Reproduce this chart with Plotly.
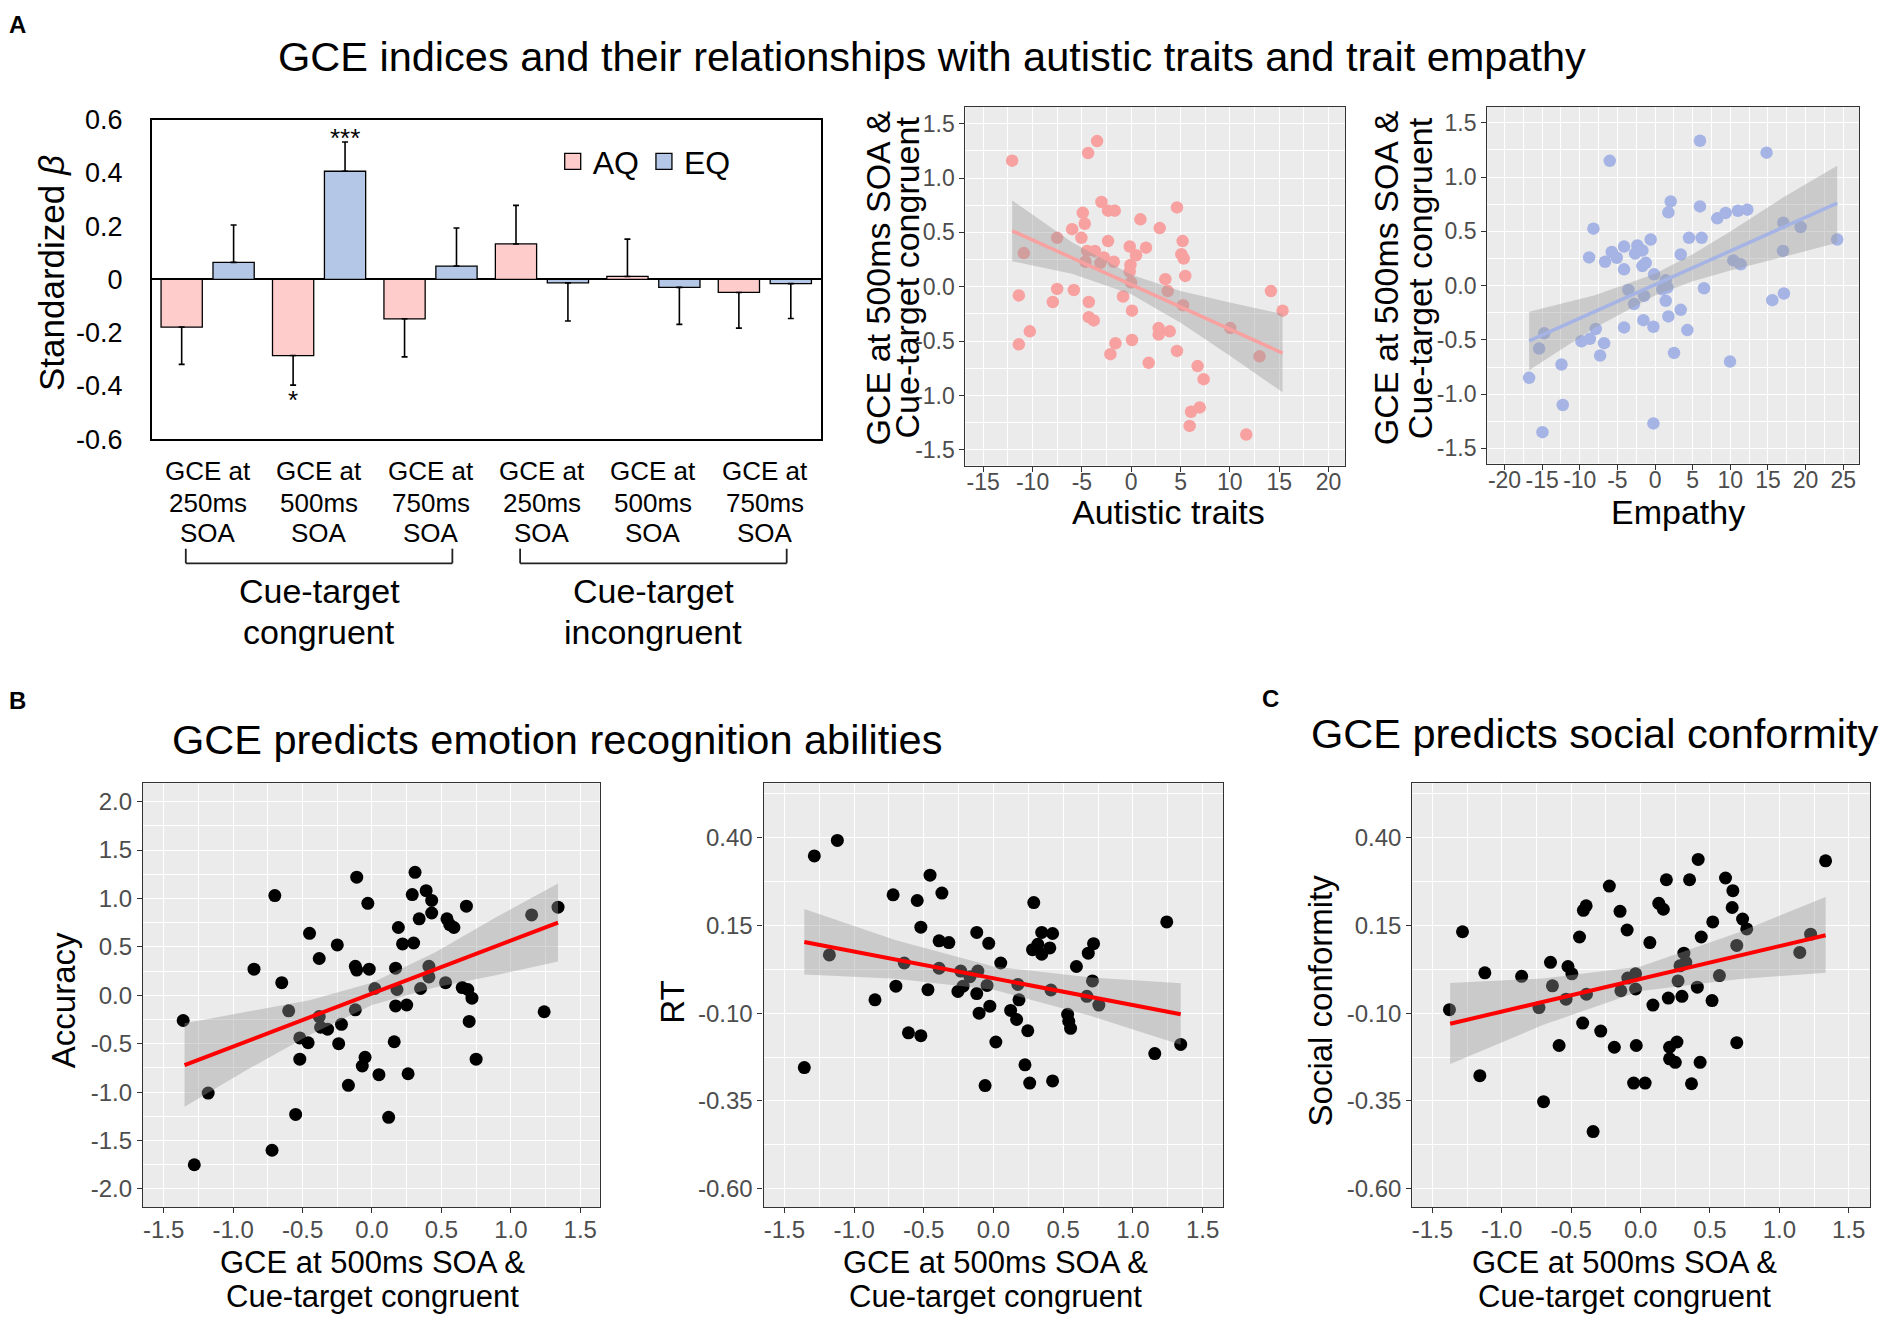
import plotly.graph_objects as go

# ============================ DATA ============================
# ---- Panel A: bar chart (standardized beta) ----
conditions = ["Congruent 250ms", "Congruent 500ms", "Congruent 750ms",
              "Incongruent 250ms", "Incongruent 500ms", "Incongruent 750ms"]
cond_line1 = ["GCE at"] * 6
cond_line2 = ["250ms", "500ms", "750ms", "250ms", "500ms", "750ms"]
cond_line3 = ["SOA"] * 6
group_line1 = ["Cue-target", "Cue-target"]
group_line2 = ["congruent", "incongruent"]
group_members = [[0, 1, 2], [3, 4, 5]]

aq_beta = [-0.179, -0.286, -0.148, 0.133, 0.011, -0.049]
aq_se = [0.140, 0.111, 0.143, 0.145, 0.140, 0.134]
eq_beta = [0.064, 0.406, 0.050, -0.013, -0.030, -0.016]
eq_se = [0.140, 0.110, 0.143, 0.143, 0.139, 0.131]
aq_sig = ["", "*", "", "", "", ""]
eq_sig = ["", "***", "", "", "", ""]
beta_ticks = [-0.6, -0.4, -0.2, 0, 0.2, 0.4, 0.6]
beta_ticklabels = ["-0.6", "-0.4", "-0.2", "0", "0.2", "0.4", "0.6"]

# ---- Panel A: GCE vs autistic traits ----
aq_x = [-12.07, -3.46, -4.37, -3.02, -2.35, -1.67, -4.91, -4.71,
        -5.99, -7.51, -5.05, -2.35, -10.89, -4.47, -3.69, -2.78,
        -4.64, -3.12, -1.77, -0.15, 0.49, -0.08, -0.15, 1.50,
        0.93, 2.89, 4.64, 5.21, 5.08, 5.32, 5.48, 3.46,
        -0.02, 3.70, -11.39, -7.51, -5.82, -7.95, -4.30, -0.83,
        0.08, 5.25, -4.30, -3.80, -10.28, -11.39, -1.60, -2.11,
        0.08, 2.78, 2.78, 3.90, 4.64, 1.77, 6.73, 7.34,
        6.06, 6.94, 5.92, 11.66, 10.04, 13.01, 14.16, 15.34]
aq_y = [1.16, 1.34, 1.23, 0.78, 0.70, 0.70, 0.68, 0.58,
        0.53, 0.45, 0.45, 0.42, 0.31, 0.33, 0.33, 0.27,
        0.23, 0.22, 0.23, 0.37, 0.29, 0.20, 0.14, 0.36,
        0.62, 0.54, 0.73, 0.42, 0.30, 0.26, 0.10, 0.07,
        0.04, -0.04, -0.08, -0.02, -0.03, -0.14, -0.14, -0.09,
        -0.22, -0.17, -0.28, -0.31, -0.41, -0.53, -0.52, -0.62,
        -0.49, -0.38, -0.44, -0.41, -0.59, -0.70, -0.73, -0.85,
        -1.15, -1.11, -1.28, -1.36, -0.38, -0.64, -0.04, -0.22]
aq_fit_x = [-12.07, 15.34]
aq_fit_y = [0.515, -0.61]
aq_band_x = [-12.07, -6.0, 0.0, 5.0, 10.0, 15.34]
aq_band_hi = [0.795, 0.41, 0.11, -0.04, -0.145, -0.25]
aq_band_lo = [0.235, 0.12, -0.07, -0.33, -0.635, -0.97]
aq_xticks = [-15, -10, -5, 0, 5, 10, 15, 20]
aq_xticklabels = ["-15", "-10", "-5", "0", "5", "10", "15", "20"]

# ---- Panel A: GCE vs empathy ----
eq_x = [5.97, 14.82, -6.02, 2.08, 1.77, 5.97, 8.27, 9.38,
        11.02, 12.26, -8.19, -0.58, 4.51, 6.19, 17.04, 19.34,
        24.20, 17.0, -4.12, -2.35, -5.75, -5.09, -8.76, -6.64,
        -2.65, -1.68, -4.12, -1.68, -1.24, 3.41, -0.13, 1.42,
        10.4, 11.37, -3.54, 0.97, 1.64, 6.50, -1.46, -2.79,
        1.42, 15.58, 17.12, 3.41, 1.77, -1.55, -0.22, -4.12,
        -7.88, 4.29, -14.73, -9.78, -8.67, -6.77, -15.4, -7.30,
        2.52, -12.43, -16.73, 9.96, -12.26, -0.22, -14.96]
eq_y = [1.335, 1.225, 1.15, 0.776, 0.675, 0.73, 0.62, 0.67,
        0.69, 0.70, 0.525, 0.425, 0.44, 0.44, 0.58, 0.54,
        0.425, 0.32, 0.36, 0.37, 0.31, 0.257, 0.26, 0.22,
        0.296, 0.324, 0.15, 0.18, 0.21, 0.287, 0.104, 0.049,
        0.232, 0.196, -0.04, -0.034, -0.018, -0.024, -0.095, -0.17,
        -0.14, -0.134, -0.073, -0.223, -0.284, -0.318, -0.379, -0.385,
        -0.40, -0.41, -0.44, -0.513, -0.49, -0.53, -0.58, -0.645,
        -0.62, -0.727, -0.85, -0.70, -1.10, -1.27, -1.35]
eq_fit_x = [-16.73, 24.2]
eq_fit_y = [-0.51, 0.76]
eq_band_x = [-16.73, -8.0, 0.0, 5.0, 10.0, 17.0, 24.2]
eq_band_hi = [-0.24, -0.089, 0.109, 0.288, 0.499, 0.811, 1.105]
eq_band_lo = [-0.78, -0.389, -0.091, 0.040, 0.139, 0.263, 0.395]
eq_xticks = [-20, -15, -10, -5, 0, 5, 10, 15, 20, 25]
eq_xticklabels = ["-20", "-15", "-10", "-5", "0", "5", "10", "15", "20", "25"]

gce_ticks = [-1.5, -1.0, -0.5, 0.0, 0.5, 1.0, 1.5]
gce_ticklabels = ["-1.5", "-1.0", "-0.5", "0.0", "0.5", "1.0", "1.5"]

# ---- Panel B: accuracy ----
acc_x = [-1.36, -1.28, -1.18, -0.85, -0.70, -0.65, -0.60, -0.72,
         -0.55, -0.52, -0.52, -0.46, -0.45, -0.38, -0.38, -0.37,
         -0.32, -0.25, -0.24, -0.22, -0.17, -0.12, -0.11, -0.11,
         -0.12, -0.05, -0.07, -0.03, -0.02, 0.02, 0.05, 0.12,
         0.17, 0.17, 0.18, 0.19, 0.22, 0.25, 0.26, 0.29,
         0.30, 0.31, 0.34, 0.35, 0.39, 0.41, 0.41, 0.43,
         0.43, 0.53, 0.54, 0.56, 0.59, 0.65, 0.69, 0.68,
         0.72, 0.70, 0.75, 1.15, 1.24, 1.34, 0.16]
acc_y = [-0.26, -1.75, -1.01, 0.27, 1.03, 0.13, -0.16, -1.60,
         -1.23, -0.44, -0.66, -0.49, 0.64, 0.38, -0.22, -0.33,
         -0.35, 0.52, -0.50, -0.30, -0.93, 0.30, 0.26, 1.22,
         -0.15, -0.64, -0.73, 0.95, 0.27, 0.07, -0.82, -1.26,
         0.28, -0.11, 0.06, 0.70, 0.53, -0.10, -0.81, 1.04,
         0.54, 1.27, 0.79, 0.07, 1.08, 0.19, 0.30, 0.98,
         0.85, 0.13, 0.79, 0.73, 0.70, 0.08, 0.06, 0.92,
         -0.03, -0.27, -0.66, 0.83, -0.17, 0.91, -0.48]
acc_fit_x = [-1.35, 1.34]
acc_fit_y = [-0.72, 0.75]
acc_band_x = [-1.35, -0.9, -0.45, 0.0, 0.45, 0.9, 1.34]
acc_band_hi = [-0.29, -0.17, -0.05, 0.13, 0.44, 0.81, 1.155]
acc_band_lo = [-1.15, -0.77, -0.41, -0.10, 0.08, 0.21, 0.35]
acc_yticks = [-2.0, -1.5, -1.0, -0.5, 0.0, 0.5, 1.0, 1.5, 2.0]
acc_yticklabels = ["-2.0", "-1.5", "-1.0", "-0.5", "0.0", "0.5", "1.0", "1.5", "2.0"]

# ---- Panel B: RT ----
rt_x = [-1.357, -1.285, -1.12, -1.177, -0.85, -0.72, -0.70, -0.64,
        -0.61, -0.547, -0.521, -0.521, -0.47, -0.455, -0.39, -0.39,
        -0.37, -0.32, -0.255, -0.235, -0.218, -0.169, -0.12, -0.12,
        -0.112, -0.103, -0.06, -0.046, -0.034, -0.026, 0.017, 0.052,
        0.123, 0.166, 0.175, 0.183, 0.246, 0.226, 0.26, 0.289,
        0.28, 0.318, 0.346, 0.346, 0.404, 0.424, 0.412, 0.424,
        0.532, 0.54, 0.553, 0.595, 0.67, 0.68, 0.71, 0.718,
        0.756, 1.157, 1.243, 1.343]
rt_y = [-0.255, 0.348, 0.392, 0.066, -0.062, 0.237, -0.023, 0.043,
        -0.156, 0.221, 0.145, -0.164, -0.033, 0.293, 0.106, 0.028,
        0.242, 0.101, -0.038, 0.020, -0.023, 0.004, 0.130, -0.044,
        0.020, -0.100, -0.306, -0.021, 0.099, -0.080, -0.182, 0.043,
        -0.092, -0.118, -0.018, -0.062, -0.150, -0.247, -0.299, 0.215,
        0.081, 0.096, 0.130, 0.068, 0.086, 0.127, -0.034, -0.293,
        -0.103, -0.123, -0.143, 0.033, -0.052, 0.071, -0.008, 0.098,
        -0.077, -0.215, 0.160, -0.189]
rt_fit_x = [-1.357, 1.343]
rt_fit_y = [0.103, -0.103]
rt_band_x = [-1.357, -0.7, 0.0, 0.7, 1.343]
rt_band_hi = [0.197, 0.108, 0.033, 0.002, -0.015]
rt_band_lo = [0.010, -0.002, -0.033, -0.108, -0.190]

# ---- Panel C: social conformity ----
soc_x = [-1.377, -1.283, -1.158, -1.122, -0.857, -0.732, -0.699, -0.649,
         -0.635, -0.587, -0.537, -0.523, -0.495, -0.44, -0.417, -0.412,
         -0.392, -0.39, -0.342, -0.287, -0.225, -0.189, -0.148, -0.142,
         -0.097, -0.092, -0.05, -0.036, -0.036, -0.031, 0.033, 0.067,
         0.089, 0.131, 0.164, 0.186, 0.20, 0.209, 0.209, 0.25,
         0.262, 0.27, 0.284, 0.298, 0.312, 0.326, 0.353, 0.367,
         0.409, 0.415, 0.429, 0.437, 0.515, 0.52, 0.568, 0.612,
         0.66, 0.665, 0.693, 0.693, 0.735, 0.765, 1.147, 1.225,
         1.333]
soc_y = [-0.090, 0.132, -0.278, 0.015, 0.005, -0.084, -0.352, 0.045,
         -0.022, -0.192, -0.060, 0.033, 0.012, 0.117, -0.128, 0.193,
         0.206, -0.046, -0.437, -0.151, 0.262, -0.197, 0.190, -0.036,
         0.137, 0.0, -0.299, -0.031, 0.012, -0.192, -0.299, 0.101,
         -0.077, 0.213, 0.196, 0.280, -0.057, -0.197, -0.230, -0.240,
         -0.182, -0.008, 0.035, -0.052, 0.071, 0.045, 0.280, -0.301,
         -0.026, 0.338, -0.240, 0.117, -0.064, 0.160, 0.007, 0.285,
         0.201, 0.249, 0.093, -0.184, 0.168, 0.140, 0.073, 0.125,
         0.334]
soc_fit_x = [-1.372, 1.333]
soc_fit_y = [-0.130, 0.122]
soc_band_x = [-1.372, -0.7, 0.0, 0.7, 1.333]
soc_band_hi = [-0.014, -0.001, 0.033, 0.129, 0.231]
soc_band_lo = [-0.245, -0.133, -0.037, -0.003, 0.015]

gce500_ticks = [-1.5, -1.0, -0.5, 0.0, 0.5, 1.0, 1.5]
gce500_ticklabels = ["-1.5", "-1.0", "-0.5", "0.0", "0.5", "1.0", "1.5"]
small_yticks = [-0.60, -0.35, -0.10, 0.15, 0.40]
small_yticklabels = ["-0.60", "-0.35", "-0.10", "0.15", "0.40"]

# ============================ FIGURE ============================
W, H = 1890, 1325
FONT = "Liberation Sans, Arial, Helvetica, sans-serif"
AQ_FILL, EQ_FILL = "#FFCCCC", "#B4C7E7"


def fx(p):
    return p / W


def fy(p):
    return 1 - p / H


fig = go.Figure()

# ---- bars ----
for name, beta, se, color in [("AQ", aq_beta, aq_se, AQ_FILL),
                              ("EQ", eq_beta, eq_se, EQ_FILL)]:
    plus = [s if b >= 0 else 0 for b, s in zip(beta, se)]
    minus = [s if b < 0 else 0 for b, s in zip(beta, se)]
    fig.add_trace(go.Bar(
        x=conditions, y=beta, name=name, showlegend=False,
        marker=dict(color=color, line=dict(color="black", width=1.3)),
        error_y=dict(type="data", symmetric=False, array=plus, arrayminus=minus,
                     color="black", thickness=1.6, width=3),
        xaxis="x", yaxis="y"))
# legend keys (square swatches, as in the original Excel legend)
for name, color in [("AQ", AQ_FILL), ("EQ", EQ_FILL)]:
    fig.add_trace(go.Scatter(
        x=[None], y=[None], mode="markers", name=name, showlegend=True,
        marker=dict(symbol="square", size=16, color=color, line=dict(color="black", width=1.3)),
        xaxis="x", yaxis="y"))

# ---- scatter panels ----
panels = [
    ("2", aq_x, aq_y, aq_fit_x, aq_fit_y, aq_band_x, aq_band_hi, aq_band_lo, "#F7A1A1", "#F7A1A1", 12.5),
    ("3", eq_x, eq_y, eq_fit_x, eq_fit_y, eq_band_x, eq_band_hi, eq_band_lo, "#A5B4E4", "#A5B4E4", 12.5),
    ("4", acc_x, acc_y, acc_fit_x, acc_fit_y, acc_band_x, acc_band_hi, acc_band_lo, "#000000", "#FF0000", 13),
    ("5", rt_x, rt_y, rt_fit_x, rt_fit_y, rt_band_x, rt_band_hi, rt_band_lo, "#000000", "#FF0000", 13),
    ("6", soc_x, soc_y, soc_fit_x, soc_fit_y, soc_band_x, soc_band_hi, soc_band_lo, "#000000", "#FF0000", 13),
]
for k, px_, py_, lx, ly, bx, bhi, blo, pcol, lcol, msize in panels:
    fig.add_trace(go.Scatter(x=px_, y=py_, mode="markers", showlegend=False,
                             marker=dict(size=msize, color=pcol, line=dict(width=0)),
                             xaxis="x" + k, yaxis="y" + k))
    fig.add_trace(go.Scatter(x=bx + bx[::-1], y=bhi + blo[::-1], mode="lines", fill="toself",
                             fillcolor="rgba(153,153,153,0.4)", line=dict(width=0),
                             showlegend=False, xaxis="x" + k, yaxis="y" + k))
    fig.add_trace(go.Scatter(x=lx, y=ly, mode="lines", showlegend=False,
                             line=dict(color=lcol, width=4 if k in "456" else 3.5),
                             xaxis="x" + k, yaxis="y" + k))


def gg_axis(lo_px, hi_px, rng, vals, labels, minor_step, size, horizontal, anchor, standoff=0):
    dom = [fx(lo_px), fx(hi_px)] if horizontal else [fy(hi_px), fy(lo_px)]
    return dict(domain=dom, range=rng, anchor=anchor, tickmode="array",
                tickvals=vals, ticktext=labels,
                tickfont=dict(size=size, color="#4D4D4D", family=FONT),
                ticks="outside", ticklen=5, tickwidth=1.2, tickcolor="#333333",
                ticklabelstandoff=standoff,
                showgrid=True, gridcolor="white", gridwidth=1.4,
                minor=dict(tick0=vals[0], dtick=minor_step, showgrid=True,
                           gridcolor="white", gridwidth=0.7, ticks=""),
                showline=True, mirror=True, linecolor="#333333", linewidth=1.2,
                zeroline=False, fixedrange=True)


TOP_T = 23
BOT_T = 24
TOP0, TOP1 = 94, 461      # top scatter panels (px from top)
BOT0, BOT1 = 786, 1220    # bottom scatter panels
layout_axes = dict(
    xaxis=dict(domain=[fx(151), fx(820)], range=[-0.5, 5.5], anchor="y",
               type="category", categoryarray=conditions, showticklabels=False,
               ticks="", showgrid=False, zeroline=False,
               showline=True, mirror=True, linecolor="black", linewidth=2),
    yaxis=dict(domain=[fy(434), fy(107)], range=[-0.6, 0.6], anchor="x",
               tickmode="array", tickvals=beta_ticks, ticktext=beta_ticklabels,
               tickfont=dict(size=27, color="black"), ticks="", ticklabelstandoff=22,
               showgrid=False, zeroline=True, zerolinecolor="black", zerolinewidth=1.6,
               showline=True, mirror=True, linecolor="black", linewidth=2),
    xaxis2=gg_axis(965, 1345, [-16.8, 21.7], aq_xticks, aq_xticklabels, 2.5, TOP_T, True, "y2", -9),
    yaxis2=gg_axis(TOP0, TOP1, [-1.645, 1.655], gce_ticks, gce_ticklabels, 0.25, TOP_T, False, "x2"),
    xaxis3=gg_axis(1487, 1859, [-22.3, 27.1], eq_xticks, eq_xticklabels, 2.5, TOP_T, True, "y3", -9),
    yaxis3=gg_axis(TOP0, TOP1 - 2, [-1.64, 1.647], gce_ticks, gce_ticklabels, 0.25, TOP_T, False, "x3"),
    xaxis4=gg_axis(142, 599, [-1.65, 1.64], gce500_ticks, gce500_ticklabels, 0.25, BOT_T, True, "y4", -4),
    yaxis4=gg_axis(BOT0, BOT1, [-2.19, 2.19], acc_yticks, acc_yticklabels, 0.25, BOT_T, False, "x4"),
    xaxis5=gg_axis(763, 1223, [-1.649, 1.649], gce500_ticks, gce500_ticklabels, 0.25, BOT_T, True, "y5", -4),
    yaxis5=gg_axis(BOT0, BOT1, [-0.653, 0.555], small_yticks, small_yticklabels, 0.125, BOT_T, False, "x5"),
    xaxis6=gg_axis(1412, 1870, [-1.645, 1.653], gce500_ticks, gce500_ticklabels, 0.25, BOT_T, True, "y6", -4),
    yaxis6=gg_axis(BOT0, BOT1, [-0.653, 0.555], small_yticks, small_yticklabels, 0.125, BOT_T, False, "x6"),
)

# ---- shapes: gray panel backgrounds + brackets ----
shapes = []
for k in ["2", "3", "4", "5", "6"]:
    shapes.append(dict(type="rect", xref="x%s domain" % k, yref="y%s domain" % k,
                       x0=0, x1=1, y0=0, y1=1, fillcolor="#EBEBEB",
                       line=dict(width=0), layer="below"))
for members in group_members:
    c = sum(members) / len(members)
    xa, xb = c - 1.196, c + 1.196
    ytop, ybot = fy(546), fy(561)
    for seg in [(xa, ytop, xa, ybot), (xa, ybot, xb, ybot), (xb, ybot, xb, ytop)]:
        shapes.append(dict(type="line", xref="x", yref="paper",
                           x0=seg[0], y0=seg[1], x1=seg[2], y1=seg[3],
                           line=dict(color="#222222", width=1.8)))

# ---- annotations ----
ann = []


def text(x, y, s, size, angle=0, color="black", xref="paper", yref="paper", **kw):
    d = dict(x=x, y=y, xref=xref, yref=yref, text=s, showarrow=False,
             font=dict(size=size, color=color, family=FONT), textangle=angle,
             xanchor="center", yanchor="middle")
    d.update(kw)
    ann.append(d)


text(fx(17), fy(10), "<b>A</b>", 24)
text(fx(17), fy(701), "<b>B</b>", 24)
text(fx(1270), fy(699), "<b>C</b>", 24)
text(fx(931), fy(42), "GCE indices and their relationships with autistic traits and trait empathy", 41.5)
text(fx(556), fy(741), "GCE predicts emotion recognition abilities", 41.5)
text(fx(1595), fy(735), "GCE predicts social conformity", 41.5)

# bar chart labels
text(fx(50), fy(264), "Standardized <i>β</i>", 35, angle=-90)
for i, cnd in enumerate(conditions):
    for line, ypx in [(cond_line1[i], 467), (cond_line2[i], 499), (cond_line3[i], 530)]:
        text(cnd, fy(ypx), line, 26, xref="x")
for g, members in enumerate(group_members):
    c = sum(members) / len(members)
    text(c, fy(589), group_line1[g], 34, xref="x")
    text(c, fy(631), group_line2[g], 34, xref="x")
for i, cnd in enumerate(conditions):
    if aq_sig[i]:
        end = aq_beta[i] - aq_se[i] if aq_beta[i] < 0 else aq_beta[i] + aq_se[i]
        text(cnd, end, aq_sig[i], 26, xref="x", yref="y", xshift=-26,
             yshift=-15 if aq_beta[i] < 0 else 4)
    if eq_sig[i]:
        end = eq_beta[i] - eq_se[i] if eq_beta[i] < 0 else eq_beta[i] + eq_se[i]
        text(cnd, end, eq_sig[i], 26, xref="x", yref="y", xshift=26,
             yshift=-15 if eq_beta[i] < 0 else 4)

# scatter axis titles
text(fx(877), fy(269), "GCE at 500ms SOA &amp;", 34, angle=-90)
text(fx(906), fy(269), "Cue-target congruent", 34, angle=-90)
text(fx(1386), fy(269), "GCE at 500ms SOA &amp;", 34, angle=-90)
text(fx(1420), fy(269), "Cue-target congruent", 34, angle=-90)
text(fx(1168), fy(509), "Autistic traits", 34)
text(fx(1678), fy(509), "Empathy", 34)

text(fx(62), fy(1008), "Accuracy", 33, angle=-90)
text(fx(671), fy(1010), "RT", 33, angle=-90)
text(fx(1320), fy(1008), "Social conformity", 33, angle=-90)
for cx in [372, 995, 1624]:
    text(fx(cx), fy(1276), "GCE at 500ms SOA &amp;", 31)
    text(fx(cx), fy(1311), "Cue-target congruent", 31)

fig.update_layout(
    width=W, height=H, margin=dict(l=0, r=0, t=0, b=0),
    paper_bgcolor="white", plot_bgcolor="white",
    font=dict(family=FONT, color="black"),
    barmode="group", bargap=0.068, bargroupgap=0.206,
    showlegend=True,
    legend=dict(orientation="h", x=fx(552), y=fy(150), xanchor="left", yanchor="middle",
                font=dict(size=32, family=FONT), bgcolor="rgba(0,0,0,0)",
                traceorder="normal", itemsizing="trace"),
    shapes=shapes, annotations=ann,
    **layout_axes,
)

fig.write_html("out.html", config={"displayModeBar": False},
               post_script="document.body.style.margin='0px';"
                           "document.documentElement.style.overflow='hidden';")
